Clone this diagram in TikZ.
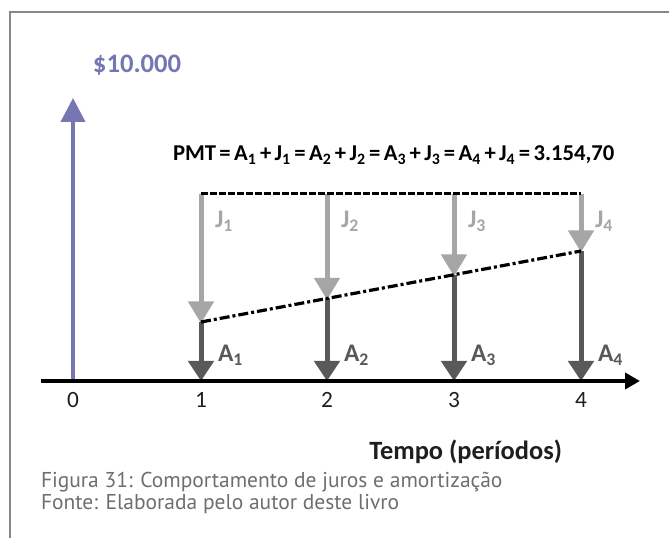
\documentclass[tikz,border=0pt]{standalone}
\usepackage{fontspec}
\setmainfont{Carlito}
\newfontfamily\capfont{PT Sans}
\usetikzlibrary{arrows.meta}
\definecolor{frameg}{RGB}{135,135,135}
\definecolor{bluev}{RGB}{118,118,178}
\definecolor{jgray}{RGB}{166,166,166}
\definecolor{agray}{RGB}{89,89,89}
\definecolor{capg}{RGB}{110,110,110}
\definecolor{numk}{RGB}{30,30,30}
\begin{document}
\begin{tikzpicture}[x=0.75pt,y=-0.75pt,
  lbl/.style={inner sep=0pt, outer sep=0pt},
  jarrow/.style={draw=jgray, line width=3.75pt, -{Triangle[length=16.5pt,width=18.75pt]}, shorten >=-1pt},
  aarrow/.style={draw=agray, line width=3.75pt, -{Triangle[length=15pt,width=18.75pt]}},
  jlab/.style={lbl, anchor=base west, text=jgray, font=\fontsize{19}{19}\selectfont\bfseries},
  alab/.style={lbl, anchor=base west, text=agray, font=\fontsize{19}{19}\selectfont\bfseries},
  numlab/.style={lbl, anchor=base, text=numk, font=\fontsize{17.5}{17.5}\selectfont},
]
\useasboundingbox (0,0) rectangle (669,538);
% frame
\draw[frameg, line width=1.5pt] (10,538) -- (10,12) -- (669,12);

% axis coordinates
\coordinate (ax0) at (41,381);
\coordinate (axE) at (640,381);
\coordinate (t0) at (73,381);
\coordinate (t1) at (201,381);
\coordinate (t2) at (327,381);
\coordinate (t3) at (454,381);
\coordinate (t4) at (581,381);
\coordinate (top1) at (201,194);
\coordinate (top2) at (327,194);
\coordinate (top3) at (454,194);
\coordinate (top4) at (581,194);
\coordinate (m1) at (201,322);
\coordinate (m2) at (327,298.5);
\coordinate (m3) at (454,275);
\coordinate (m4) at (581,251);
\coordinate (bluetip) at (73,98);

% blue arrow
\draw[bluev, line width=3pt, -{Triangle[length=18pt,width=18pt]}] (t0) -- (bluetip);

% J arrows
\draw[jarrow] (top1) -- (m1);
\draw[jarrow] (top2) -- (m2);
\draw[jarrow] (top3) -- (m3);
\draw[jarrow] (top4) -- (m4);
% A arrows
\draw[aarrow] (m1) -- (t1);
\draw[aarrow] (m2) -- (t2);
\draw[aarrow] (m3) -- (t3);
\draw[aarrow] (m4) -- (t4);

% dashed top line
\draw[black, line width=2.25pt, dash pattern=on 5.25pt off 1.5pt] (top1) -- (top4);
% dash-dot line
\draw[black, line width=2.4pt, dash pattern=on 7.5pt off 2.25pt on 2.25pt off 2.25pt] (m1) -- (m4);

% axis
\draw[black, line width=3pt, -{Triangle[length=11.25pt,width=12pt]}] (ax0) -- (axE);

% labels
\node[lbl, anchor=base west, text=bluev, font=\fontsize{20}{20}\selectfont\bfseries] (money) at (93,73) {\$10.000};
\node[lbl, anchor=base west, text=black, font=\fontsize{17}{17}\selectfont\bfseries] (pmt) at (173,161)
  {\spaceskip=0.15em PMT = A\textsubscript{1} + J\textsubscript{1} = A\textsubscript{2} + J\textsubscript{2} = A\textsubscript{3} + J\textsubscript{3} = A\textsubscript{4} + J\textsubscript{4} = 3.154,70};

\node[jlab] (j1) at (215,228) {J\textsubscript{1}};
\node[jlab] (j2) at (341,228) {J\textsubscript{2}};
\node[jlab] (j3) at (468,228) {J\textsubscript{3}};
\node[jlab] (j4) at (595,228) {J\textsubscript{4}};

\node[alab] (a1) at (218,362) {A\textsubscript{1}};
\node[alab] (a2) at (344,362) {A\textsubscript{2}};
\node[alab] (a3) at (471,362) {A\textsubscript{3}};
\node[alab] (a4) at (598,362) {A\textsubscript{4}};

\node[numlab] (n0) at (73,408) {0};
\node[numlab] (n1) at (201,408) {1};
\node[numlab] (n2) at (327,408) {2};
\node[numlab] (n3) at (454,408) {3};
\node[numlab] (n4) at (581,408) {4};

\node[lbl, anchor=base east, text=numk, font=\fontsize{19.8}{19.8}\selectfont\bfseries] (tempo) at (562,460) {Tempo (períodos)};

\node[lbl, anchor=base west, text=capg, font=\capfont\fontsize{16.1}{16.1}\selectfont] (cap1) at (41,488) {Figura 31: Comportamento de juros e amortização};
\node[lbl, anchor=base west, text=capg, font=\capfont\fontsize{16.1}{16.1}\selectfont] (cap2) at (41,510) {Fonte: Elaborada pelo autor deste livro};
\end{tikzpicture}
\end{document}
